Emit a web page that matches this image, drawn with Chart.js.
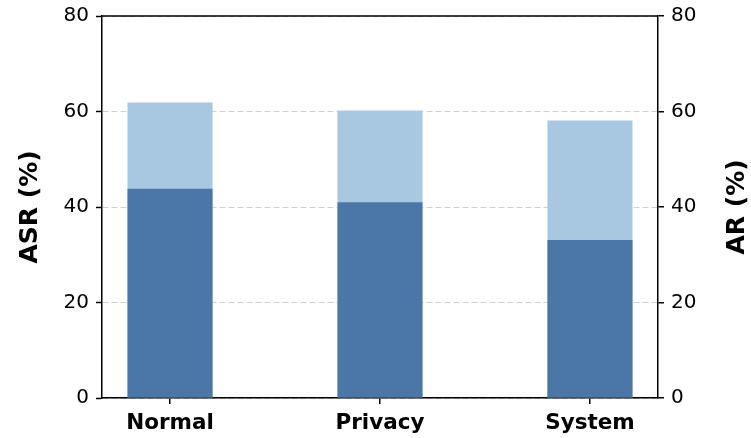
<!DOCTYPE html>
<html>
<head>
<meta charset="utf-8">
<script src="https://cdn.jsdelivr.net/npm/chart.js@4.4.0/dist/chart.umd.min.js"></script>
<style>
  html, body { margin: 0; padding: 0; background: #fff; }
  #wrap { width: 751px; height: 438px; }
</style>
</head>
<body>
<div id="wrap"><canvas id="chart"></canvas></div>
<script>
const categories = ['Normal', 'Privacy', 'System'];
const asrValues = [43.8, 41.0, 33.1];
const arValues = [61.9, 60.2, 58.1];
const yTicks = [0, 20, 40, 60, 80];

const darkBlue = '#4b77a8';
const lightBlue = '#a7c8e0';
const tickFont = { family: 'DejaVu Sans', size: 20, lineHeight: 0.9 };
const titleFont = { family: 'DejaVu Sans', size: 25, weight: 'bold' };

// black frame line along the top + right axis title read bottom-to-top like matplotlib
const extras = {
  id: 'extras',
  afterDraw(chart) {
    const { ctx, chartArea } = chart;
    ctx.save();
    ctx.strokeStyle = '#000';
    ctx.lineWidth = 1.5;
    ctx.beginPath();
    ctx.moveTo(chartArea.left, chartArea.top);
    ctx.lineTo(chartArea.right, chartArea.top);
    ctx.stroke();

    const y2 = chart.scales.y2;
    ctx.translate(y2.right - 14, (chartArea.top + chartArea.bottom) / 2);
    ctx.rotate(-Math.PI / 2);
    ctx.fillStyle = '#000';
    ctx.font = 'bold 25px "DejaVu Sans"';
    ctx.textAlign = 'center';
    ctx.textBaseline = 'middle';
    ctx.fillText('AR (%)', 0, 0);
    ctx.restore();
  }
};

const ctx = document.getElementById('chart').getContext('2d');
new Chart(ctx, {
  type: 'bar',
  data: {
    datasets: [
      {
        label: 'ASR',
        data: asrValues.map((v, i) => ({ x: i, y: v })),
        backgroundColor: darkBlue,
        yAxisID: 'y',
        grouped: false,
        order: 0,
        barPercentage: 0.405,
        categoryPercentage: 1
      },
      {
        label: 'AR',
        data: arValues.map((v, i) => ({ x: i, y: v })),
        backgroundColor: lightBlue,
        yAxisID: 'y2',
        grouped: false,
        order: 1,
        barPercentage: 0.405,
        categoryPercentage: 1
      }
    ]
  },
  options: {
    responsive: true,
    maintainAspectRatio: false,
    animation: false,
    layout: { padding: 0 },
    plugins: { legend: { display: false }, tooltip: { enabled: false } },
    scales: {
      x: {
        type: 'linear',
        min: -0.324,
        max: 2.324,
        offset: false,
        afterBuildTicks: (scale) => { scale.ticks = categories.map((c, i) => ({ value: i })); },
        afterFit: (scale) => { scale.height = 40; },
        grid: { offset: false, drawOnChartArea: false, color: '#000', tickLength: 6, lineWidth: 1.5 },
        border: { color: '#000', width: 1.5 },
        ticks: {
          color: '#000',
          padding: 7,
          font: { family: 'DejaVu Sans', size: 21.5, weight: 'bold' },
          callback: (v) => categories[v]
        }
      },
      y: {
        position: 'left',
        min: 0,
        max: 80,
        z: 1,
        afterBuildTicks: (scale) => { scale.ticks = yTicks.map(v => ({ value: v })); },
        afterFit: (scale) => { scale.width = 102; },
        grid: {
          color: 'rgba(185,185,185,0.65)',
          lineWidth: 1,
          tickColor: '#000',
          tickWidth: 1.5,
          tickLength: 6,
          tickBorderDash: []
        },
        border: { color: '#000', width: 1.5, dash: [6, 3] },
        ticks: { color: '#000', padding: 7, font: tickFont },
        title: {
          display: true,
          text: 'ASR (%)',
          color: '#000',
          font: titleFont,
          padding: { top: 15, bottom: 0 }
        }
      },
      y2: {
        position: 'right',
        min: 0,
        max: 80,
        afterBuildTicks: (scale) => { scale.ticks = yTicks.map(v => ({ value: v })); },
        afterFit: (scale) => { scale.width = 93; },
        grid: { drawOnChartArea: false, color: '#000', tickLength: 6, lineWidth: 1.5 },
        border: { color: '#000', width: 1.5 },
        ticks: { color: '#000', padding: 7, font: tickFont }
      }
    }
  },
  plugins: [extras]
});
</script>
</body>
</html>
